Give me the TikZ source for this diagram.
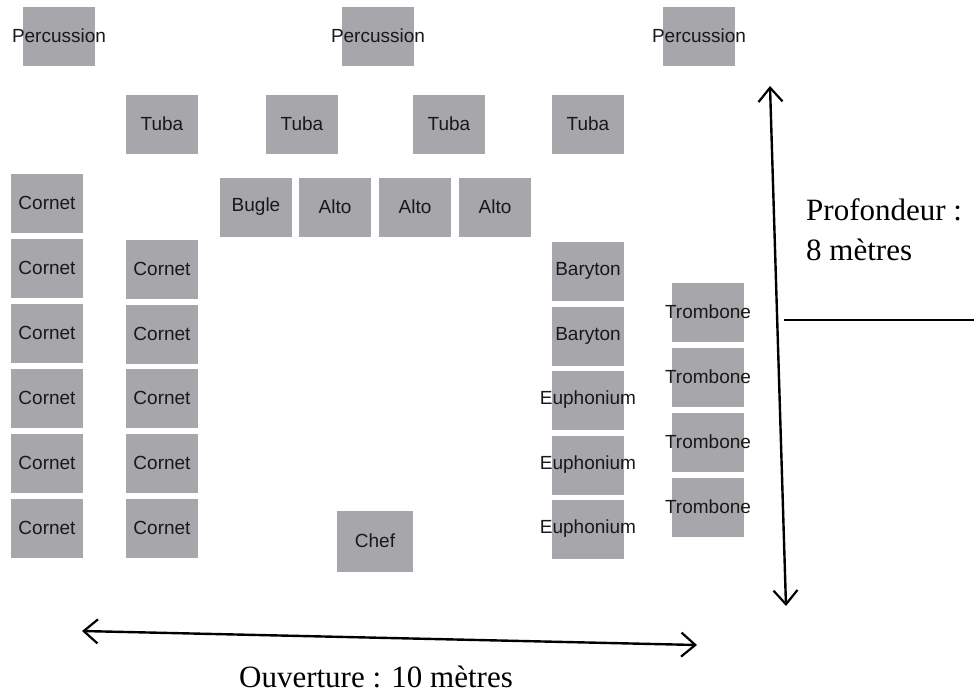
\documentclass[tikz,border=0pt]{standalone}
\usepackage{fontspec}
\setmainfont{Liberation Serif}
\newfontfamily\instfont{Liberation Sans}
\usetikzlibrary{arrows.meta}
\definecolor{boxgrey}{RGB}{167,167,171}
\definecolor{txtdark}{RGB}{25,25,25}
\tikzset{
  instbox/.style={fill=boxgrey, draw=none, minimum width=72pt, minimum height=59pt, inner sep=0pt},
  instlbl/.style={text=txtdark, font=\instfont\fontsize{19}{22}\selectfont, inner sep=0pt},
  dimarrow/.style={line width=2.4pt, {Straight Barb[length=14pt,width=24pt,line width=2.2pt]}-{Straight Barb[length=14pt,width=24pt,line width=2.2pt]}},
  thinline/.style={line width=1.5pt},
  caption/.style={font=\fontsize{31}{40}\selectfont, inner sep=0pt, text=black}
}
\newcommand{\inst}[4]{\node[instbox, label={[instlbl]center:#4}] (#1) at (#2,#3) {};}
\begin{document}
\begin{tikzpicture}[x=1pt,y=-1pt]
\useasboundingbox[fill=white] (0,0) rectangle (974,699);
% percussion
\inst{p1}{59}{36}{Percussion}
\inst{p2}{378}{36}{Percussion}
\inst{p3}{699}{36}{Percussion}
% tubas
\inst{t1}{162}{124}{Tuba}
\inst{t2}{302}{124}{Tuba}
\inst{t3}{449}{124}{Tuba}
\inst{t4}{588}{124}{Tuba}
% bugle / altos
\inst{bg}{256}{207}{Bugle}
\inst{a1}{335}{207}{Alto}
\inst{a2}{415}{207}{Alto}
\inst{a3}{495}{207}{Alto}
% cornets col 1
\inst{ca1}{47}{203}{Cornet}
\inst{ca2}{47}{268}{Cornet}
\inst{ca3}{47}{333}{Cornet}
\inst{ca4}{47}{398}{Cornet}
\inst{ca5}{47}{463}{Cornet}
\inst{ca6}{47}{528}{Cornet}
% cornets col 2
\inst{cb1}{162}{269}{Cornet}
\inst{cb2}{162}{334}{Cornet}
\inst{cb3}{162}{398}{Cornet}
\inst{cb4}{162}{463}{Cornet}
\inst{cb5}{162}{528}{Cornet}
% barytons / euphoniums
\inst{b1}{588}{271}{Baryton}
\inst{b2}{588}{336}{Baryton}
\inst{e1}{588}{400}{Euphonium}
\inst{e2}{588}{465}{Euphonium}
\inst{e3}{588}{529}{Euphonium}
% trombones
\inst{tr1}{708}{312}{Trombone}
\inst{tr2}{708}{377}{Trombone}
\inst{tr3}{708}{442}{Trombone}
\inst{tr4}{708}{507}{Trombone}
% chef
\node[instbox, minimum width=76pt, minimum height=61pt, label={[instlbl]center:Chef}] (chef) at (375,541) {};
% dimension arrows
\coordinate (hl) at (82,631);
\coordinate (hr) at (697,645);
\draw[dimarrow] (hl) -- (hr);
\coordinate (vt) at (770,86);
\coordinate (vb) at (786,606);
\draw[dimarrow] (vt) -- (vb);
\coordinate (l1) at (784,320);
\coordinate (l2) at (974,320);
\draw[thinline] (l1) -- (l2);
% captions
\node[caption, anchor=south west, align=left] (prof) at (806,261) {Profondeur :\\8 mètres};
\node[caption] (ouv) at (376,677) {Ouverture : 10 mètres};
\end{tikzpicture}
\end{document}
